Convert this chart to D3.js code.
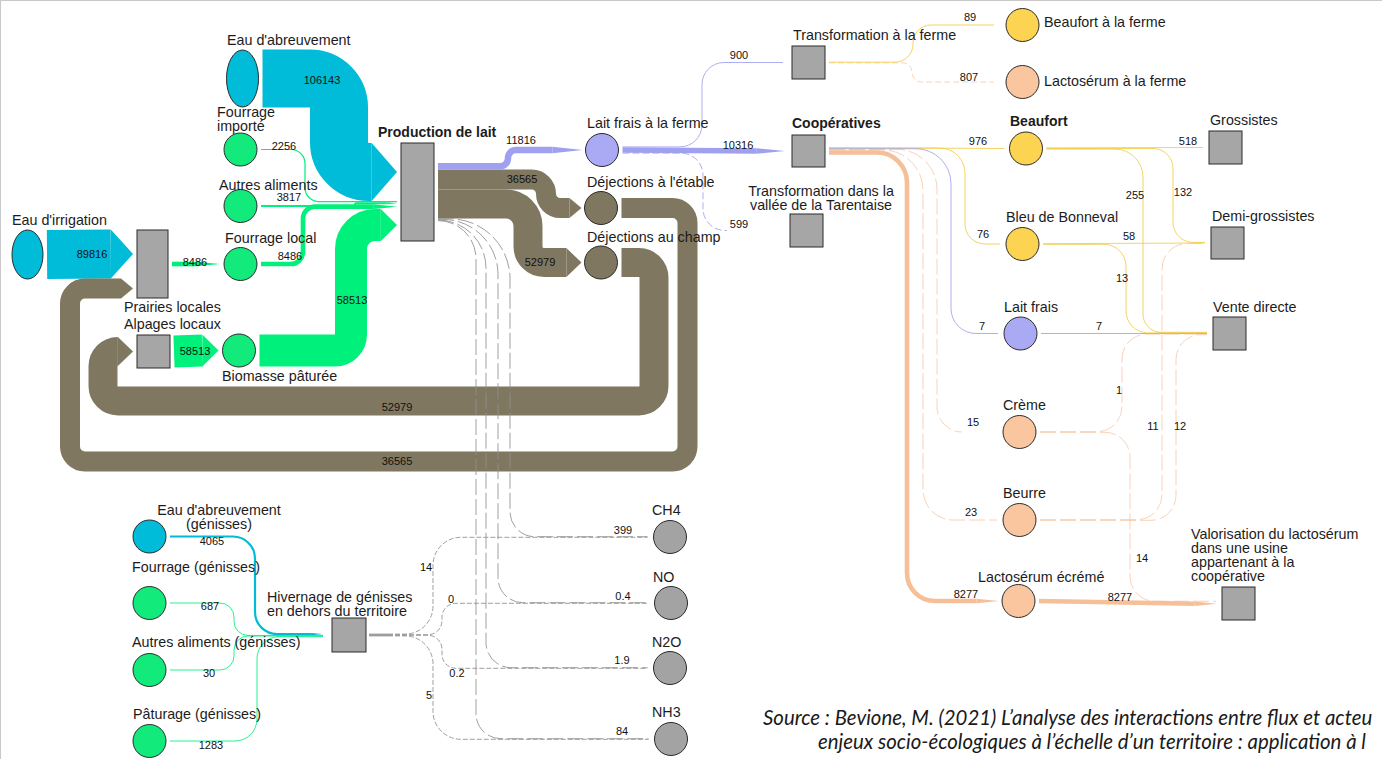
<!DOCTYPE html>
<html>
<head>
<meta charset="utf-8">
<script src="https://cdn.jsdelivr.net/npm/d3@7"></script>
<style>
  body { margin: 0; background: #fff; }
  svg { display: block; font-family: "Liberation Sans", Arial, sans-serif; }
</style>
</head>
<body>
<div id="viz"></div>
<script>
const width = 1382;
const height = 759;

const PROD = "Production de lait";
const HIV = "Hivernage de génisses en dehors du territoire";
const TDV = "Transformation dans la vallée de la Tarentaise";
const VAL = "Valorisation du lactosérum dans une usine appartenant à la coopérative";

// ---- data: flows [source, target, value] ----
const farmInputs = [
    ["Eau d'abreuvement", PROD, 106143],
    ["Fourrage importé", PROD, 2256],
    ["Autres aliments", PROD, 3817],
    ["Fourrage local", PROD, 8486],
    ["Biomasse pâturée", PROD, 58513]
];
const landFlows = [
    ["Eau d'irrigation", "Prairies locales", 89816],
    ["Prairies locales", "Fourrage local", 8486],
    ["Alpages locaux", "Biomasse pâturée", 58513],
    ["Déjections à l'étable", "Prairies locales", 36565],
    ["Déjections au champ", "Alpages locaux", 52979]
];
const farmOutputs = [
    [PROD, "Lait frais à la ferme", 11816],
    [PROD, "Déjections à l'étable", 36565],
    [PROD, "Déjections au champ", 52979],
    [PROD, "CH4", 385],
    [PROD, "NO", 0.4],
    [PROD, "N2O", 1.7],
    [PROD, "NH3", 79]
];
const milkFlows = [
    ["Lait frais à la ferme", "Transformation à la ferme", 900],
    ["Lait frais à la ferme", "Coopératives", 10316],
    ["Lait frais à la ferme", TDV, 599],
    ["Transformation à la ferme", "Beaufort à la ferme", 89],
    ["Transformation à la ferme", "Lactosérum à la ferme", 807],
    ["Coopératives", "Beaufort", 976],
    ["Coopératives", "Bleu de Bonneval", 76],
    ["Coopératives", "Lait frais", 7],
    ["Coopératives", "Crème", 15],
    ["Coopératives", "Beurre", 23],
    ["Coopératives", "Lactosérum écrémé", 8277]
];
const productFlows = [
    ["Beaufort", "Grossistes", 518],
    ["Beaufort", "Demi-grossistes", 132],
    ["Beaufort", "Vente directe", 255],
    ["Bleu de Bonneval", "Demi-grossistes", 58],
    ["Bleu de Bonneval", "Vente directe", 13],
    ["Lait frais", "Vente directe", 7],
    ["Crème", "Vente directe", 1],
    ["Crème", VAL, 14],
    ["Beurre", "Demi-grossistes", 11],
    ["Beurre", "Vente directe", 12],
    ["Lactosérum écrémé", VAL, 8277]
];
const heiferFlows = [
    ["Eau d'abreuvement (génisses)", HIV, 4065],
    ["Fourrage (génisses)", HIV, 687],
    ["Autres aliments (génisses)", HIV, 30],
    ["Pâturage (génisses)", HIV, 1283],
    [HIV, "CH4", 14],
    [HIV, "NO", 0],
    [HIV, "N2O", 0.2],
    [HIV, "NH3", 5]
];
const emissionNodes = ["CH4", "NO", "N2O", "NH3"];

// source note, as far as the figure shows it
const sourceLines = [
    "Source : Bevione, M. (2021) L’analyse des interactions entre flux et acteu",
    "enjeux socio-écologiques à l’échelle d’un territoire : application à l"
];

// ---- layout: shapes, positions and label placement ----
// c = circle (centre), e = ellipse (centre), b = box (top-left)
const nodeLayout = {
    "Eau d'abreuvement": {shape: "e", x: 242.5, y: 78.5, rx: 16, ry: 28.5, group: "water", lx: 227, ly: 45},
    "Eau d'irrigation": {shape: "e", x: 27.5, y: 254.5, rx: 15.5, ry: 24.5, group: "water", lx: 12, ly: 225},
    "Fourrage importé": {shape: "c", x: 240.5, y: 149.5, group: "feed", lx: 217, ly: 117, br: [1]},
    "Autres aliments": {shape: "c", x: 240.5, y: 206, group: "feed", lx: 219, ly: 190},
    "Fourrage local": {shape: "c", x: 240.5, y: 264, group: "feed", lx: 225, ly: 243},
    "Biomasse pâturée": {shape: "c", x: 239, y: 350.5, group: "feed", lx: 222, ly: 381},
    "Prairies locales": {shape: "b", x: 137, y: 230, w: 31, h: 68, lx: 124, ly: 312},
    "Alpages locaux": {shape: "b", x: 137, y: 335, w: 33, h: 33, lx: 124, ly: 329},
    [PROD]: {shape: "b", x: 401, y: 143, w: 33, h: 98, lx: 378, ly: 137, bold: true},
    "Lait frais à la ferme": {shape: "c", x: 602, y: 150, group: "milk", lx: 587, ly: 128},
    "Déjections à l'étable": {shape: "c", x: 601, y: 208, group: "manure", lx: 587, ly: 187},
    "Déjections au champ": {shape: "c", x: 601, y: 262.5, group: "manure", lx: 587, ly: 242},
    "Transformation à la ferme": {shape: "b", x: 792, y: 46, w: 33, h: 33, lx: 793, ly: 40},
    "Coopératives": {shape: "b", x: 792, y: 135, w: 33, h: 32, lx: 792, ly: 128, bold: true},
    [TDV]: {shape: "b", x: 790, y: 214, w: 33, h: 33, lx: 821, ly: 196, br: [3], anchor: "middle"},
    "Beaufort à la ferme": {shape: "c", x: 1022.5, y: 25, group: "cheese", lx: 1044, ly: 27},
    "Lactosérum à la ferme": {shape: "c", x: 1022.5, y: 82, group: "whey", lx: 1044, ly: 86},
    "Beaufort": {shape: "c", x: 1026, y: 148.5, group: "cheese", lx: 1010, ly: 126, bold: true},
    "Bleu de Bonneval": {shape: "c", x: 1022.5, y: 244, group: "cheese", lx: 1006, ly: 222},
    "Lait frais": {shape: "c", x: 1020.5, y: 333.5, group: "milk", lx: 1004, ly: 312},
    "Crème": {shape: "c", x: 1019.5, y: 432, group: "whey", lx: 1003, ly: 410},
    "Beurre": {shape: "c", x: 1019.5, y: 520, group: "whey", lx: 1003, ly: 498},
    "Lactosérum écrémé": {shape: "c", x: 1018.5, y: 601, group: "whey", lx: 978, ly: 582},
    "Grossistes": {shape: "b", x: 1209, y: 131, w: 33, h: 33, lx: 1210, ly: 125},
    "Demi-grossistes": {shape: "b", x: 1211, y: 227, w: 33, h: 32, lx: 1212, ly: 221},
    "Vente directe": {shape: "b", x: 1213, y: 317, w: 33, h: 33, lx: 1213, ly: 312},
    [VAL]: {shape: "b", x: 1222, y: 587, w: 33, h: 33, lx: 1191, ly: 539, br: [3, 6, 9]},
    "CH4": {shape: "c", x: 670, y: 537, group: "gas", lx: 652, ly: 515, total: [623, 530]},
    "NO": {shape: "c", x: 671, y: 603, group: "gas", lx: 653, ly: 582, total: [623, 596]},
    "N2O": {shape: "c", x: 670, y: 668, group: "gas", lx: 652, ly: 647, total: [622, 660]},
    "NH3": {shape: "c", x: 671, y: 739, group: "gas", lx: 652, ly: 717, total: [622, 731]},
    [HIV]: {shape: "b", x: 332, y: 618, w: 34, h: 34, lx: 267, ly: 602, br: [3]},
    "Eau d'abreuvement (génisses)": {shape: "c", x: 149.5, y: 536.5, group: "water", lx: 219, ly: 515, br: [2], anchor: "middle"},
    "Fourrage (génisses)": {shape: "c", x: 149.5, y: 603, group: "feed", lx: 132, ly: 572},
    "Autres aliments (génisses)": {shape: "c", x: 149.5, y: 670, group: "feed", lx: 132, ly: 647},
    "Pâturage (génisses)": {shape: "c", x: 149.5, y: 741, group: "feed", lx: 133, ly: 719}
};

// dashes for the heifer emission lines: a solid trunk, then fine dashes
const trunkDash = "24,2," + d3.range(60).map(() => "5,2").join(",");

// routes: via = alternating channel x, y, x ... ; r = corner radius
const routes = {
    [`Eau d'abreuvement>${PROD}`]: {via: [339], r: [29, 30], label: [322, 80]},
    [`Fourrage importé>${PROD}`]: {via: [305], r: 14, label: [284, 146]},
    [`Autres aliments>${PROD}`]: {via: [355], r: 2, label: [289, 197]},
    [`Fourrage local>${PROD}`]: {via: [303], r: 12, label: [290, 256]},
    [`Biomasse pâturée>${PROD}`]: {via: [351], r: [16, 24], label: [352, 300]},
    ["Eau d'irrigation>Prairies locales"]: {via: [], label: [92, 254]},
    ["Prairies locales>Fourrage local"]: {via: [], label: [195, 262]},
    ["Alpages locaux>Biomasse pâturée"]: {via: [], label: [195, 351]},
    ["Déjections à l'étable>Prairies locales"]: {via: [687.5, 461.5, 70], r: 15, label: [397, 461]},
    ["Déjections au champ>Alpages locaux"]: {via: [654, 401, 103], r: 15, label: [397, 407]},
    [`${PROD}>Lait frais à la ferme`]: {via: [508], r: 8, label: [521, 140], endGap: 3},
    [`${PROD}>Déjections à l'étable`]: {via: [546], r: 14.5, label: [522, 179], endGap: 3},
    [`${PROD}>Déjections au champ`]: {via: [528], r: [22, 16], label: [540, 262], endGap: 3},
    [`${PROD}>CH4`]: {via: [510], r: [60, 25], endGap: 6},
    [`${PROD}>NO`]: {via: [498], r: [55, 25], endGap: 6},
    [`${PROD}>N2O`]: {via: [486], r: [50, 25], endGap: 6},
    [`${PROD}>NH3`]: {via: [476], r: [45, 25], endGap: 6},
    ["Lait frais à la ferme>Transformation à la ferme"]: {via: [702], r: 22, label: [739, 55], endGap: 9},
    ["Lait frais à la ferme>Coopératives"]: {via: [], label: [738, 145], endGap: 7},
    [`Lait frais à la ferme>${TDV}`]: {via: [703], r: 22, label: [739, 224], endX: 727, dash: "7,3"},
    ["Transformation à la ferme>Beaufort à la ferme"]: {via: [913], r: 18, label: [970, 17], endGap: 12},
    ["Transformation à la ferme>Lactosérum à la ferme"]: {via: [912], r: 10, label: [969, 77], endGap: 12, dash: "6,3"},
    ["Coopératives>Beaufort"]: {via: [], label: [978, 141], endGap: 5},
    ["Coopératives>Bleu de Bonneval"]: {via: [965], r: [25, 20], label: [983, 234], endGap: 6},
    ["Coopératives>Lait frais"]: {via: [951], r: [35, 25], label: [982, 326], endGap: 6},
    ["Coopératives>Crème"]: {via: [937], r: [40, 28], label: [973, 422], endX: 962},
    ["Coopératives>Beurre"]: {via: [923], r: [40, 30], label: [971, 512], endGap: 6},
    ["Coopératives>Lactosérum écrémé"]: {via: [907], r: [30, 28], label: [966, 594], endGap: 3},
    ["Beaufort>Grossistes"]: {via: [], label: [1188, 141], endGap: 6},
    ["Beaufort>Demi-grossistes"]: {via: [1173], r: 20, label: [1183, 192], endGap: 6},
    ["Beaufort>Vente directe"]: {via: [1143], r: [28, 18], label: [1135, 195], endGap: 6},
    ["Bleu de Bonneval>Demi-grossistes"]: {via: [], label: [1129, 236], endGap: 6},
    ["Bleu de Bonneval>Vente directe"]: {via: [1126], r: 22, label: [1122, 278], endGap: 6},
    ["Lait frais>Vente directe"]: {via: [], label: [1099, 326], endGap: 6},
    ["Crème>Vente directe"]: {via: [1122], r: 25, label: [1119, 390], endGap: 6},
    [`Crème>${VAL}`]: {via: [1130], r: 25, label: [1142, 558], endGap: 6},
    ["Beurre>Demi-grossistes"]: {via: [1162], r: 25, label: [1153, 426], endGap: 6},
    ["Beurre>Vente directe"]: {via: [1176], r: 25, label: [1180, 426], endGap: 6},
    [`Lactosérum écrémé>${VAL}`]: {via: [], label: [1120, 597], endGap: 5},
    [`Eau d'abreuvement (génisses)>${HIV}`]: {via: [255], r: 22, label: [212, 541], endGap: 9},
    [`Fourrage (génisses)>${HIV}`]: {via: [234], r: 14, label: [210, 606], endGap: 9},
    [`Autres aliments (génisses)>${HIV}`]: {via: [234], r: 14, label: [209, 673], endGap: 9},
    [`Pâturage (génisses)>${HIV}`]: {via: [257], r: 22, label: [211, 745], endGap: 9},
    [`${HIV}>CH4`]: {via: [433], r: 28, label: [426, 567], endGap: 6, dash: trunkDash, startGap: 3},
    [`${HIV}>NO`]: {via: [442], r: 14, label: [451, 599], endGap: 6, dash: trunkDash, startGap: 3},
    [`${HIV}>N2O`]: {via: [442], r: 14, label: [457, 673], endGap: 6, dash: trunkDash, startGap: 3},
    [`${HIV}>NH3`]: {via: [433], r: 28, label: [429, 695], endGap: 6, dash: trunkDash, startGap: 3}
};

const fills = {
    water: "#00bcd8", feed: "#12ea7c", manure: "#807760", milk: "#a9a9f4",
    cheese: "#fdd451", whey: "#f9c6a0", gas: "#a3a3a3", box: "#a6a6a6"
};
const strokes = {
    water: "#00bcd8", feed: "#00f07c", manure: "#807760", milk: "#a0a0f0",
    cheese: "#f2cc45", whey: "#f5bf98", gas: "#8f8f8f"
};

// ---- build ----
const flows = [].concat(farmInputs, landFlows, farmOutputs, milkFlows, productFlows, heiferFlows)
    .map(([source, target, value]) => ({source, target, value, key: `${source}>${target}`}));

// band width: the dairy node height holds all of its inputs
const widthScale = d3.scaleLinear()
    .domain([0, d3.sum(farmInputs, d => d[2])])
    .range([0, nodeLayout[PROD].h]);

const nodes = Object.keys(nodeLayout).map(name => {
    const n = Object.assign({name}, nodeLayout[name]);
    n.group = n.group || "box";
    if (n.shape === "b") { n.cx = n.x + n.w / 2; n.cy = n.y + n.h / 2; n.left = n.x; n.right = n.x + n.w; }
    else if (n.shape === "e") { n.cx = n.x; n.cy = n.y; n.left = n.x - n.rx; n.right = n.x + n.rx; }
    else { n.cx = n.x; n.cy = n.y; n.left = n.x - 16.5; n.right = n.x + 16.5; }
    n.out = []; n.in = [];
    return n;
});
const nodeByName = new Map(nodes.map(n => [n.name, n]));

flows.forEach(f => {
    f.w = widthScale(f.value);
    f.sw = Math.max(f.w, 0.6);
    nodeByName.get(f.source).out.push(f);
    nodeByName.get(f.target).in.push(f);
});

// stack flows on each node side, centred on the node
nodes.forEach(n => {
    let y = n.cy - d3.sum(n.out, f => f.sw) / 2;
    n.out.forEach(f => { f.y0 = y + f.sw / 2; y += f.sw; });
    y = n.cy - d3.sum(n.in, f => f.sw) / 2;
    n.in.forEach(f => { f.y1 = y + f.sw / 2; y += f.sw; });
});

function arrowLength(w) {
    if (w >= 12) return 0.35 * w + 5;
    if (w >= 2) return Math.min(5 * w, 30);
    return 0;
}

function routePoints(start, via, end) {
    const pts = [start];
    via.forEach((v, i) => {
        const last = pts[pts.length - 1];
        pts.push(i % 2 === 0 ? [v, last[1]] : [last[0], v]);
    });
    if (via.length) pts.push([pts[pts.length - 1][0], end[1]]);
    pts.push(end);
    return pts;
}

function roundedPath(pts, radii) {
    const p = d3.path();
    p.moveTo(pts[0][0], pts[0][1]);
    let used = 0;
    for (let i = 1; i < pts.length - 1; i++) {
        const a = pts[i - 1], b = pts[i], c = pts[i + 1];
        const lin = Math.hypot(b[0] - a[0], b[1] - a[1]);
        const lout = Math.hypot(c[0] - b[0], c[1] - b[1]);
        const want = Array.isArray(radii) ? radii[Math.min(i - 1, radii.length - 1)] : (radii || 0);
        const r = Math.max(0, Math.min(want, lin - used, i + 1 === pts.length - 1 ? lout : lout / 2));
        if (r > 0.01 && lin > 0 && lout > 0) p.arcTo(b[0], b[1], c[0], c[1], r);
        else p.lineTo(b[0], b[1]);
        used = r;
    }
    const e = pts[pts.length - 1];
    p.lineTo(e[0], e[1]);
    return p.toString();
}

flows.forEach(f => {
    const s = nodeByName.get(f.source), t = nodeByName.get(f.target);
    const rt = routes[f.key] || {via: []};
    f.route = rt;
    f.arrow = arrowLength(f.w);
    const start = [s.right + (rt.startGap ?? 4), f.y0];
    const endX = rt.endX ?? (t.left - (rt.endGap ?? 4) - f.arrow);
    f.end = [endX, f.y1];
    f.pts = routePoints(start, rt.via || [], f.end);
    f.d = roundedPath(f.pts, rt.r);
    f.color = t.group !== "box" ? strokes[t.group] : strokes[s.group];
});

const svg = d3.select("#viz")
    .append("svg")
    .attr("width", width)
    .attr("height", height)
    .attr("viewBox", `0 0 ${width} ${height}`);

// thin frame of the original figure
svg.append("line").attr("x1", 0).attr("x2", width).attr("y1", 0.5).attr("y2", 0.5)
    .attr("stroke", "#c8c8c8");
svg.append("line").attr("x1", 0.5).attr("x2", 0.5).attr("y1", 0).attr("y2", height)
    .attr("stroke", "#c8c8c8");

// wide bands first, thin lines on top
const ordered = flows.slice().sort((a, b) => b.w - a.w);

const linkG = svg.append("g").attr("fill", "none");
linkG.selectAll("path")
    .data(ordered)
    .join("path")
    .attr("d", d => d.d)
    .attr("stroke", d => d.color)
    .attr("stroke-width", d => Math.max(d.w, 1))
    .attr("stroke-opacity", d => d.w >= 1 ? 1 : (d.color === strokes.whey ? 0.7 : 0.85))
    .attr("stroke-dasharray", d => d.route.dash || (d.w < 1 && (d.color === strokes.gas || d.color === strokes.whey) ? "16,4" : null));

// arrow heads
svg.append("g").selectAll("path")
    .data(ordered.filter(d => d.arrow > 0))
    .join("path")
    .attr("fill", d => d.color)
    .attr("d", d => {
        const [x, y] = d.end;
        return `M${x},${y - d.w / 2}L${x + d.arrow},${y}L${x},${y + d.w / 2}Z`;
    });

// nodes
const nodeG = svg.append("g").attr("stroke", "#2a2a2a").attr("stroke-width", 1);
nodeG.selectAll("rect")
    .data(nodes.filter(n => n.shape === "b"))
    .join("rect")
    .attr("x", n => n.x).attr("y", n => n.y)
    .attr("width", n => n.w).attr("height", n => n.h)
    .attr("fill", fills.box);
nodeG.selectAll("ellipse")
    .data(nodes.filter(n => n.shape === "e"))
    .join("ellipse")
    .attr("cx", n => n.cx).attr("cy", n => n.cy)
    .attr("rx", n => n.rx).attr("ry", n => n.ry)
    .attr("fill", n => fills[n.group]);
nodeG.selectAll("circle")
    .data(nodes.filter(n => n.shape === "c"))
    .join("circle")
    .attr("cx", n => n.cx).attr("cy", n => n.cy)
    .attr("r", 16.5)
    .attr("fill", n => fills[n.group]);

// node labels
function splitLines(name, br) {
    const words = name.split(" ");
    if (!br) return [name];
    const cuts = [0].concat(br, [words.length]);
    return d3.pairs(cuts).map(([a, b]) => words.slice(a, b).join(" "));
}
const labelG = svg.append("g").attr("fill", "#1c1c1c");
nodes.forEach(n => {
    const txt = labelG.append("text")
        .attr("x", n.lx).attr("y", n.ly)
        .attr("text-anchor", n.anchor || "start")
        .style("font-size", n.bold ? "14px" : "14.3px")
        .style("font-weight", n.bold ? "bold" : "normal");
    splitLines(n.name, n.br).forEach((line, i) => {
        txt.append("tspan").attr("x", n.lx).attr("dy", i ? 14 : 0).text(line);
    });
});

// flow values
const fmt = v => String(+v.toFixed(1));
svg.append("g")
    .selectAll("text")
    .data(flows.filter(f => f.route.label))
    .join("text")
    .attr("x", d => d.route.label[0])
    .attr("y", d => d.route.label[1])
    .attr("dy", "0.35em")
    .attr("text-anchor", "middle")
    .style("font-size", "11px")
    .attr("fill", "#111")
    .text(d => fmt(d.value));

// totals reaching each emission
svg.append("g")
    .selectAll("text")
    .data(emissionNodes.map(name => nodeByName.get(name)))
    .join("text")
    .attr("x", n => n.total[0])
    .attr("y", n => n.total[1])
    .attr("dy", "0.35em")
    .attr("text-anchor", "middle")
    .style("font-size", "11px")
    .attr("fill", "#111")
    .text(n => fmt(d3.sum(n.in, f => f.value)));

// source note
const src = svg.append("text")
    .style("font-family", "Lato, 'Open Sans', sans-serif")
    .style("font-style", "italic")
    .style("font-size", "20.4px")
    .attr("fill", "#1a1a1a");
src.append("tspan").attr("x", 763).attr("y", 725).text(sourceLines[0]);
src.append("tspan").attr("x", 818).attr("y", 749).text(sourceLines[1]);
</script>
</body>
</html>
